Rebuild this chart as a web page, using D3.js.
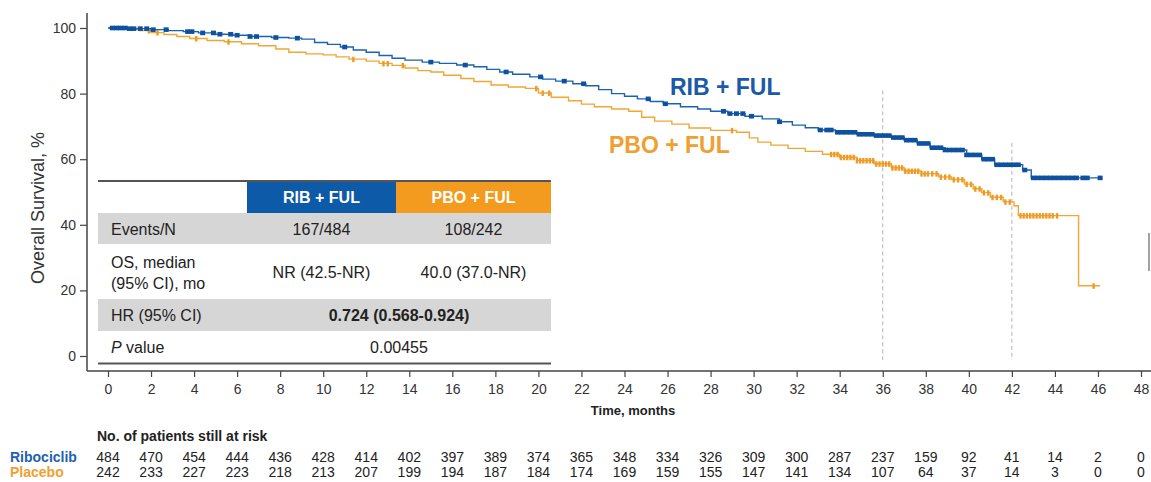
<!DOCTYPE html>
<html>
<head>
<meta charset="utf-8">
<script src="https://cdn.jsdelivr.net/npm/d3@7"></script>
<style>
  body { margin: 0; background: #fff; }
  svg { display: block; font-family: "Liberation Sans", Arial, sans-serif; }
  .narrow { font-family: "Liberation Sans Narrow", "Arial Narrow", "Liberation Sans", sans-serif; }
</style>
</head>
<body>
<svg id="chart" width="1151" height="482"></svg>
<script>
// --- data ---
const timeTicks = [0, 2, 4, 6, 8, 10, 12, 14, 16, 18, 20, 22, 24, 26, 28, 30, 32, 34, 36, 38, 40, 42, 44, 46, 48];
const survTicks = [0, 20, 40, 60, 80, 100];

// KM steps: [month, survival %]
const ribSteps = [
  [0, 100], [1.0, 99.8], [2.0, 99.5], [2.8, 99.2], [3.5, 98.9], [4.2, 98.5], [5.0, 98.1], [5.8, 97.8],
  [6.6, 97.4], [7.6, 97.1], [8.4, 96.9], [9.0, 96.6], [9.6, 95.6], [10.2, 95.0], [10.8, 94.2], [11.4, 93.3],
  [12.0, 92.6], [12.6, 91.6], [13.2, 90.8], [13.8, 90.2], [14.6, 89.6], [15.4, 89.2], [16.2, 88.7], [17.0, 88.2],
  [17.6, 87.4], [18.2, 86.6], [18.8, 85.9], [19.6, 85.1], [20.2, 84.4], [20.8, 83.8], [21.6, 83.0], [22.2, 82.4],
  [22.8, 81.2], [23.4, 80.0], [24.0, 79.2], [24.6, 78.4], [25.2, 77.6], [25.8, 76.9], [26.6, 76.0], [27.4, 75.3],
  [28.0, 74.6], [28.8, 73.9], [29.6, 73.1], [30.4, 72.3], [31.2, 71.4], [31.8, 70.4], [32.4, 69.6], [33.0, 68.9],
  [33.8, 68.2], [34.8, 67.6], [35.6, 67.2], [36.4, 66.6], [37.0, 65.8], [37.6, 64.8], [38.2, 63.5], [38.9, 62.8],
  [39.9, 61.3], [40.6, 60.0], [41.2, 58.3], [42.5, 56.7], [42.9, 54.3]
];
const ribEnd = 46.2;

const pboSteps = [
  [0, 100], [0.8, 99.6], [1.5, 99.2], [2.0, 98.6], [2.6, 98.0], [3.2, 97.4], [3.8, 96.8], [4.6, 96.2],
  [5.4, 95.8], [6.2, 95.2], [7.0, 94.6], [7.8, 93.6], [8.4, 92.6], [9.2, 92.1], [10.0, 91.8], [10.6, 91.2],
  [11.2, 90.5], [12.0, 89.9], [12.6, 89.2], [13.2, 88.6], [13.8, 87.8], [14.4, 87.0], [15.0, 86.6], [15.6, 85.6],
  [16.4, 84.6], [17.0, 83.7], [17.8, 82.6], [18.6, 82.0], [19.4, 81.6], [20.0, 80.2], [20.6, 78.9], [21.4, 77.8],
  [22.0, 76.8], [22.6, 76.0], [23.4, 75.3], [24.2, 74.6], [24.8, 72.8], [25.4, 71.6], [26.2, 70.7], [27.0, 69.5],
  [28.0, 68.8], [29.2, 68.2], [29.8, 66.5], [30.2, 65.2], [30.8, 64.3], [31.6, 63.3], [32.4, 62.4], [33.2, 61.5],
  [34.0, 60.6], [34.8, 59.6], [35.6, 58.6], [36.4, 57.4], [37.0, 56.4], [37.8, 55.6], [38.6, 54.6], [39.2, 53.8],
  [39.8, 52.4], [40.2, 51.0], [40.6, 49.8], [41.0, 48.4], [41.6, 47.0], [42.1, 45.8], [42.3, 42.8], [45.1, 21.4]
];
const pboEnd = 46.1;

// censoring times (months)
const ribCensor = [
  0.2, 0.4, 0.6, 0.8, 1.0, 1.2, 1.5, 1.8, 2.1, 2.7, 3.7, 3.9, 4.4, 4.9, 5.2, 5.7, 6.0, 6.6, 6.9, 7.8, 8.8,
  11.0, 15.0, 16.6, 18.5, 20.1, 21.2, 22.1, 25.1, 25.9, 28.6, 28.9, 29.2, 29.5, 29.9, 31.2, 33.1, 33.4, 33.6,
  33.9, 34.1, 34.3, 34.5, 34.7, 34.9, 35.1, 35.3, 35.5, 35.7, 35.9, 36.1, 36.3, 36.5, 36.7, 36.9, 37.1, 37.3,
  37.5, 37.7, 37.9, 38.1, 38.3, 38.5, 38.7, 38.9, 39.1, 39.3, 39.5, 39.7, 39.9, 40.1, 40.3, 40.5, 40.7, 40.9,
  41.1, 41.3, 41.5, 41.7, 41.9, 42.1, 42.3, 42.6, 43.0, 43.2, 43.4, 43.6, 43.8, 44.0, 44.2, 44.4, 44.6, 44.8,
  45.0, 45.3, 45.5, 46.1
];
const pboCensor = [
  1.9, 2.3, 4.1, 5.6, 11.4, 12.8, 13.0, 13.7, 19.9, 20.2, 20.5, 29.0,
  33.6, 33.75, 33.9, 34.05, 34.2, 34.35, 34.5, 34.65, 34.8, 34.95, 35.1, 35.25, 35.4, 35.55, 35.7, 35.85,
  36.0, 36.15, 36.3, 36.45, 36.6, 36.75, 36.9, 37.05, 37.2, 37.35, 37.5, 37.65, 37.8, 37.95, 38.1, 38.3,
  38.5, 38.7, 38.9, 39.1, 39.3, 39.5, 39.7, 39.9, 40.1, 40.3, 40.5, 40.7, 40.9, 41.1, 41.3, 41.5, 41.7,
  41.9, 42.4, 42.55, 42.7, 42.85, 43.0, 43.15, 43.3, 43.45, 43.6, 43.75, 43.9, 44.1, 45.8
];

// reference lines: [month, top survival %]
const refLines = [[36, 81], [42, 65]];

const riskTimes = timeTicks;
const riskRib = [484, 470, 454, 444, 436, 428, 414, 402, 397, 389, 374, 365, 348, 334, 326, 309, 300, 287, 237, 159, 92, 41, 14, 2, 0];
const riskPbo = [242, 233, 227, 223, 218, 213, 207, 199, 194, 187, 184, 174, 169, 159, 155, 147, 141, 134, 107, 64, 37, 14, 3, 0, 0];

const tableHeads = ['RIB + FUL', 'PBO + FUL'];
const rowLabels = [['Events/N'], ['OS, median', '(95% CI), mo'], ['HR (95% CI)'], ['P value']];
const ribValues = ['167/484', 'NR (42.5-NR)', null, null];
const pboValues = ['108/242', '40.0 (37.0-NR)', null, null];
const spanValues = [null, null, '0.724 (0.568-0.924)', '0.00455'];

// --- drawing ---
const BLUE = '#1a62b4', BLUE_DK = '#0d51a0', ORANGE = '#f2a634', ORANGE_DK = '#ef9a22';
const svg = d3.select('#chart');

const x = d3.scaleLinear().domain([0, 48]).range([108, 1141]);
const y = d3.scaleLinear().domain([0, 100]).range([356, 28]);

// axes
const yAxis = svg.append('g').attr('transform', 'translate(87,0)')
  .call(d3.axisLeft(y).tickValues(survTicks).tickSize(7).tickPadding(4));
yAxis.select('.domain').attr('d', 'M0,13V371');
const xAxis = svg.append('g').attr('transform', 'translate(0,371)')
  .call(d3.axisBottom(x).tickValues(timeTicks).tickSize(6).tickPadding(7));
xAxis.select('.domain').attr('d', 'M87,0H1151');
[yAxis, xAxis].forEach(a => {
  a.selectAll('.domain').attr('stroke', '#444').attr('stroke-width', 1.5);
  a.selectAll('.tick line').attr('stroke', '#444').attr('stroke-width', 1.2);
  a.selectAll('.tick text').attr('class', 'narrow').attr('fill', '#333').attr('font-size', 14);
});

svg.append('text').attr('transform', 'translate(44,208) rotate(-90)')
  .attr('text-anchor', 'middle').attr('fill', '#333').attr('font-size', 18)
  .text('Overall Survival, %');
svg.append('text').attr('x', 633).attr('y', 415).attr('text-anchor', 'middle')
  .attr('font-weight', 'bold').attr('fill', '#222').attr('font-size', 13).attr('class', 'narrow')
  .text('Time, months');

// dashed reference lines
svg.selectAll('line.ref').data(refLines).join('line').attr('class', 'ref')
  .attr('x1', d => x(d[0])).attr('x2', d => x(d[0]))
  .attr('y1', d => y(d[1])).attr('y2', 360)
  .attr('stroke', '#b5b5b5').attr('stroke-width', 1).attr('stroke-dasharray', '4,3');

// KM curves
const line = d3.line().x(d => x(d[0])).y(d => y(d[1])).curve(d3.curveStepAfter);
function survAt(steps, t) {
  const i = d3.bisector(d => d[0]).right(steps, t) - 1;
  return steps[Math.max(0, i)][1];
}
function drawArm(steps, end, censor, color, dark, square) {
  const pts = steps.concat([[end, steps[steps.length - 1][1]]]);
  svg.append('path').attr('d', line(pts)).attr('fill', 'none')
    .attr('stroke', color).attr('stroke-width', 1.4);
  if (square) {
    svg.append('g').selectAll('rect').data(censor).join('rect')
      .attr('x', d => x(d) - 2.5).attr('y', d => y(survAt(steps, d)) - 2.3)
      .attr('width', 5).attr('height', 4.6).attr('fill', dark);
  } else {
    svg.append('g').selectAll('line').data(censor).join('line')
      .attr('x1', d => x(d)).attr('x2', d => x(d))
      .attr('y1', d => y(survAt(steps, d)) - 2.5).attr('y2', d => y(survAt(steps, d)) + 3)
      .attr('stroke', dark).attr('stroke-width', 2.4);
  }
}
drawArm(pboSteps, pboEnd, pboCensor, ORANGE, ORANGE_DK, false);
drawArm(ribSteps, ribEnd, ribCensor, BLUE, BLUE_DK, true);

svg.append('text').attr('x', 670).attr('y', 95).attr('fill', '#1a5aa8')
  .attr('font-weight', 'bold').attr('font-size', 23).text('RIB + FUL');
svg.append('text').attr('x', 609).attr('y', 153).attr('fill', '#f0a030')
  .attr('font-weight', 'bold').attr('font-size', 23).text('PBO + FUL');

// small stray mark at right edge
svg.append('line').attr('x1', 1149).attr('x2', 1149).attr('y1', 233).attr('y2', 271)
  .attr('stroke', '#666').attr('stroke-width', 1.2);

// inset table
const tbl = svg.append('g');
const tL = 98, tR = 551, cB = 247, cO = 396;
const rowY = [213, 244, 299, 331, 363];
tbl.append('rect').attr('x', cB).attr('y', 181).attr('width', cO - cB).attr('height', 32).attr('fill', '#0c5aa8');
tbl.append('rect').attr('x', cO).attr('y', 181).attr('width', tR - cO).attr('height', 32).attr('fill', '#f39b1f');
tbl.selectAll('text.head').data(tableHeads).join('text').attr('class', 'head')
  .attr('x', (d, i) => i === 0 ? (cB + cO) / 2 : (cO + tR) / 2).attr('y', 203)
  .attr('text-anchor', 'middle').attr('fill', '#fff').attr('font-weight', 'bold').attr('font-size', 16)
  .text(d => d);
rowLabels.forEach((lab, i) => {
  const y0 = rowY[i], y1 = rowY[i + 1], mid = (y0 + y1) / 2;
  if (i % 2 === 0) tbl.append('rect').attr('x', tL).attr('y', y0).attr('width', tR - tL).attr('height', y1 - y0).attr('fill', '#d6d6d6');
  const t = tbl.append('text').attr('x', 111).attr('fill', '#222').attr('font-size', 16);
  if (lab.length === 1) {
    if (lab[0].startsWith('P ')) {
      t.attr('y', mid + 6);
      t.append('tspan').attr('font-style', 'italic').text('P');
      t.append('tspan').text(lab[0].slice(1));
    } else t.attr('y', mid + 6).text(lab[0]);
  } else {
    lab.forEach((s, k) => t.append('tspan').attr('x', 111).attr('y', mid - 4 + k * 21).text(s));
  }
  const val = (v, cx, bold) => tbl.append('text').attr('x', cx).attr('y', mid + 6)
    .attr('text-anchor', 'middle').attr('fill', '#222').attr('font-size', 16)
    .attr('font-weight', bold ? 'bold' : null).text(v);
  if (ribValues[i]) val(ribValues[i], (cB + cO) / 2);
  if (pboValues[i]) val(pboValues[i], (cO + tR) / 2);
  if (spanValues[i]) val(spanValues[i], (cB + tR) / 2, i === 2);
});
tbl.append('line').attr('x1', tL).attr('x2', tR).attr('y1', 181).attr('y2', 181).attr('stroke', '#555').attr('stroke-width', 2);
tbl.append('line').attr('x1', tL).attr('x2', tR).attr('y1', 363.5).attr('y2', 363.5).attr('stroke', '#555').attr('stroke-width', 2);

// risk table
svg.append('text').attr('class', 'narrow').attr('x', 97).attr('y', 441)
  .attr('font-weight', 'bold').attr('font-size', 14).attr('fill', '#222').text('No. of patients still at risk');
svg.append('text').attr('class', 'narrow').attr('x', 10).attr('y', 462)
  .attr('font-weight', 'bold').attr('font-size', 14).attr('fill', '#1f5fb0').text('Ribociclib');
svg.append('text').attr('class', 'narrow').attr('x', 10).attr('y', 477)
  .attr('font-weight', 'bold').attr('font-size', 14).attr('fill', '#f0a030').text('Placebo');
[[riskRib, 462], [riskPbo, 477]].forEach(([vals, yy]) => {
  svg.append('g').selectAll('text').data(vals).join('text').attr('class', 'narrow')
    .attr('x', (d, i) => x(riskTimes[i])).attr('y', yy).attr('text-anchor', 'middle')
    .attr('font-size', 14).attr('fill', '#222').text(d => d);
});
</script>
</body>
</html>
